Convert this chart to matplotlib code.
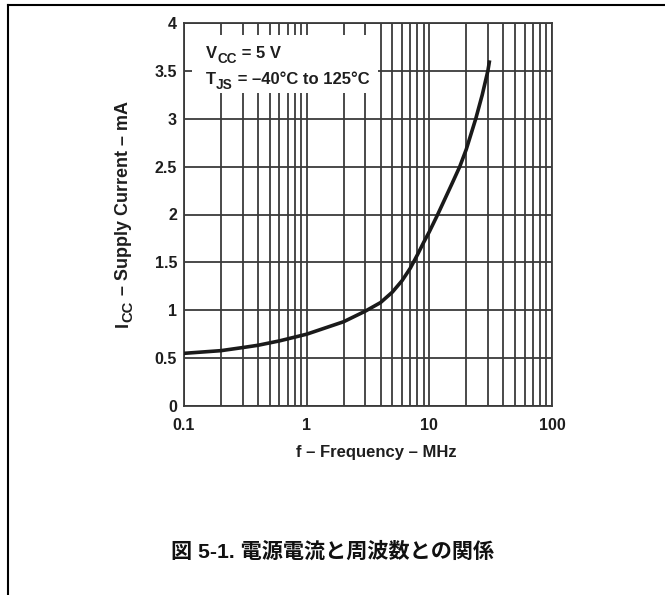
import matplotlib
matplotlib.use("Agg")
import matplotlib.pyplot as plt
from matplotlib.patches import Rectangle
from matplotlib.lines import Line2D
from matplotlib.transforms import offset_copy

# ---- data ----
freq_mhz = [0.1, 0.2, 0.3, 0.4, 0.6, 1, 2, 3, 4, 5, 6, 7, 8, 9, 10,
            11.7, 15.4, 17.7, 20, 23.9, 27, 30, 31]
icc_ma = [0.55, 0.578, 0.61, 0.634, 0.68, 0.75, 0.88, 0.99, 1.08, 1.19, 1.31,
          1.44, 1.58, 1.71, 1.82, 2.0, 2.33, 2.5, 2.68, 3.0, 3.25, 3.5, 3.61]
x_ticks = [0.1, 1, 10, 100]
x_tick_labels = ["0.1", "1", "10", "100"]
y_ticks = [0, 0.5, 1, 1.5, 2, 2.5, 3, 3.5, 4]
y_tick_labels = ["0", "0.5", "1", "1.5", "2", "2.5", "3", "3.5", "4"]
x_label = "f – Frequency – MHz"
# (text, is_subscript)
y_label_parts = [("I", False), ("CC", True), (" – Supply Current – mA", False)]
note_line1 = [("V", False), ("CC", True), (" = 5 V", False)]
note_line2 = [("T", False), ("JS", True), (" = –40°C to 125°C", False)]
title = "図 5-1. 電源電流と周波数との関係"

plt.rcParams["font.family"] = ["Liberation Sans", "Noto Sans CJK JP"]
plt.rcParams["font.weight"] = "bold"
TXT = "#1e1e1e"

W, H = 665, 595
fig = plt.figure(figsize=(W / 100, H / 100), dpi=100)
renderer = fig.canvas.get_renderer()

# page frame: top and left lines
fig.add_artist(Line2D([8 / W, 1.0], [1 - 5 / H, 1 - 5 / H], transform=fig.transFigure,
                      color="black", lw=1.5))
fig.add_artist(Line2D([8 / W, 8 / W], [0.0, 1 - 5 / H], transform=fig.transFigure,
                      color="black", lw=1.5))

ax = fig.add_axes([184 / W, (H - 406) / H, 368 / W, 383 / H])
ax.set_xscale("log")
ax.set_xlim(0.1, 100)
ax.set_ylim(0, 4)

grid_col = "#3a3a3a"
ax.set_axisbelow(True)
ax.grid(True, which="both", axis="x", color=grid_col, lw=1.3)
ax.grid(True, which="major", axis="y", color=grid_col, lw=1.3)
for s in ax.spines.values():
    s.set_color(grid_col)
    s.set_linewidth(1.3)

ax.set_xticks(x_ticks)
ax.set_xticklabels(x_tick_labels)
ax.set_yticks(y_ticks)
ax.set_yticklabels(y_tick_labels)
ax.tick_params(which="both", length=0, labelsize=11.5, colors=TXT)
ax.tick_params(axis="x", pad=9)
ax.tick_params(axis="y", pad=5)
for lab in ax.get_xticklabels() + ax.get_yticklabels():
    lab.set_fontweight("bold")

ax.plot(freq_mhz, icc_ma, color="#1a1a1a", lw=2.6, zorder=3, solid_capstyle="butt")

# white note box
ax.add_patch(Rectangle((8 / 368, (406 - 93) / 383), (378 - 192) / 368, (93 - 35) / 383,
                       transform=ax.transAxes, facecolor="white", edgecolor="none", zorder=4))


def rich_text(x, y, parts, size, sub_scale=0.82, sub_drop=3.5, rotated=False,
              transform=None, zorder=5):
    """Draw text made of normal and subscript runs, one run after another."""
    advance = 0.0
    for text, is_sub in parts:
        fs = size * sub_scale if is_sub else size
        drop = sub_drop if is_sub else 0.0
        if rotated:
            tr = offset_copy(transform, fig=fig, x=drop, y=advance, units="points")
            t = fig.text(x, y, text, transform=tr, fontsize=fs, fontweight="bold",
                         rotation=90, rotation_mode="anchor", ha="left", va="baseline",
                         color=TXT, zorder=zorder)
            ext = t.get_window_extent(renderer)
            advance += ext.height * 72 / fig.dpi
        else:
            tr = offset_copy(transform, fig=fig, x=advance, y=-drop, units="points")
            t = fig.text(x, y, text, transform=tr, fontsize=fs, fontweight="bold",
                         ha="left", va="baseline", color=TXT, zorder=zorder)
            ext = t.get_window_extent(renderer)
            advance += ext.width * 72 / fig.dpi
    return advance


# note lines
rich_text(206 / W, 1 - 58 / H, note_line1, 12.0, transform=fig.transFigure, zorder=6)
rich_text(206 / W, 1 - 84 / H, note_line2, 12.0, transform=fig.transFigure, zorder=6)

# y label, rotated, centered around y=214 px
tmp_len = 0.0
for text, is_sub in y_label_parts:
    fs = 13 * 0.82 if is_sub else 13
    t = fig.text(0, 0, text, fontsize=fs, fontweight="bold", rotation=90)
    tmp_len += t.get_window_extent(renderer).height
    t.remove()
start_y = (H - 214 - tmp_len / 2) / H
rich_text(128 / W, start_y, y_label_parts, 13, rotated=True, transform=fig.transFigure)

ax.set_xlabel(x_label, fontsize=12, fontweight="bold", color=TXT)
ax.xaxis.set_label_coords((376 - 184) / 368, -(452 - 406) / 383)
ax.xaxis.label.set_verticalalignment("center")

fig.text(0.5, 1 - 552 / H, title, ha="center", va="center", fontsize=15.2,
         fontweight="bold", family=["Liberation Sans", "Noto Sans CJK JP"], color="#111111")

fig.savefig("out.png", dpi=100, facecolor="white")
